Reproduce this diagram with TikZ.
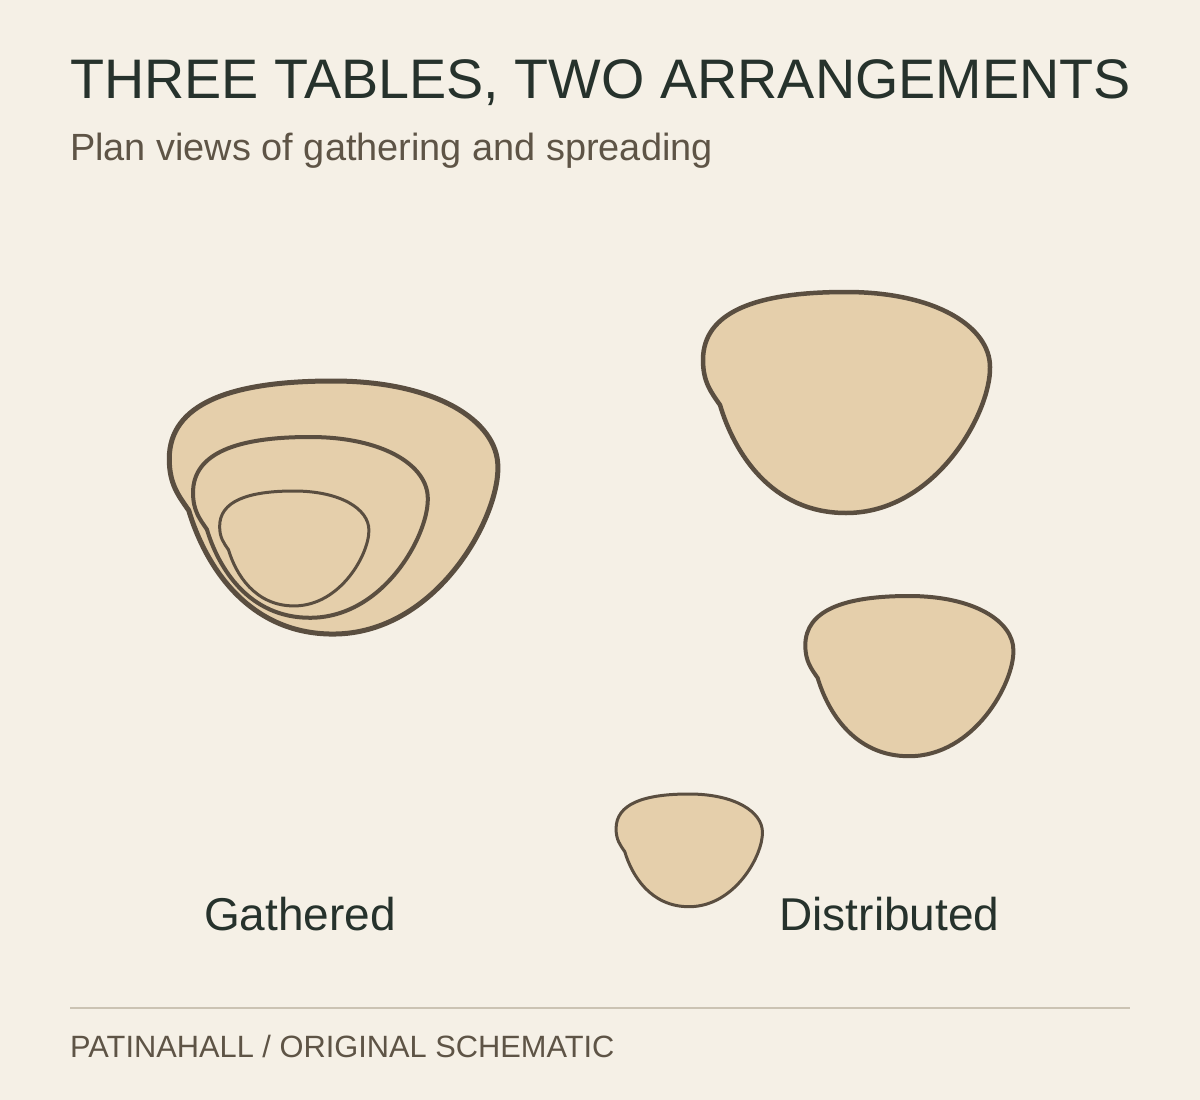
\documentclass[tikz,border=0pt]{standalone}
\usepackage{fontspec}
\setmainfont{Liberation Sans}
\definecolor{bg}{HTML}{F5F0E6}
\definecolor{tablefill}{HTML}{E5CFAB}
\definecolor{tableline}{HTML}{5A4E40}
\definecolor{titlecol}{HTML}{26322C}
\definecolor{subcol}{HTML}{5E5446}
\definecolor{rulecol}{HTML}{CBC3B3}
\newcommand\tableblob{(0,0) .. controls (90,0) and (144,35) .. (144,75)
 .. controls (145,120) and (90,221) .. (0,221)
 .. controls (-75,221) and (-112,160) .. (-126,113)
 .. controls (-135,100) and (-143,90) .. (-143,68)
 .. controls (-143,20) and (-90,0) .. (0,0) -- cycle}
\tikzset{
  tbl/.style={fill=tablefill, draw=tableline, line join=round},
  titletxt/.style={anchor=base west, inner sep=0pt, text=titlecol, font=\fontsize{55.7}{60}\selectfont},
  subtxt/.style={anchor=base west, inner sep=0pt, text=subcol, font=\fontsize{37.9}{42}\selectfont},
  labeltxt/.style={anchor=base, inner sep=0pt, text=titlecol, font=\fontsize{46}{50}\selectfont},
  foottxt/.style={anchor=base west, inner sep=0pt, text=subcol, font=\fontsize{30.8}{34}\selectfont}
}
\begin{document}
\begin{tikzpicture}[x=1pt,y=-1pt]
\useasboundingbox (0,0) rectangle (1200,1100);
\fill[bg] (0,0) rectangle (1200,1100);
\node[titletxt] (title) at (70,98) {THREE TABLES, TWO ARRANGEMENTS};
\node[subtxt] (subtitle) at (70,160) {Plan views of gathering and spreading};
% gathered
\begin{scope}[shift={(333,381)}, scale=1.145]
  \path[tbl, line width=5pt] \tableblob;
\end{scope}
\begin{scope}[shift={(310,437)}, scale=0.818]
  \path[tbl, line width=4pt] \tableblob;
\end{scope}
\begin{scope}[shift={(294,491)}, scale=0.52]
  \path[tbl, line width=3pt] \tableblob;
\end{scope}
% distributed
\begin{scope}[shift={(846,292)}, scale=1]
  \path[tbl, line width=4.5pt] \tableblob;
\end{scope}
\begin{scope}[shift={(909,596)}, scale=0.725]
  \path[tbl, line width=4pt] \tableblob;
\end{scope}
\begin{scope}[shift={(689,794)}, scale=0.51]
  \path[tbl, line width=3pt] \tableblob;
\end{scope}
\node[labeltxt] (gathered) at (300,930) {Gathered};
\node[labeltxt] (distributed) at (889.5,930) {Distributed};
\draw[rulecol, line width=2pt] (70,1008) -- (1130,1008);
\node[foottxt] (footer) at (70,1057) {PATINAHALL / ORIGINAL SCHEMATIC};
\end{tikzpicture}
\end{document}
